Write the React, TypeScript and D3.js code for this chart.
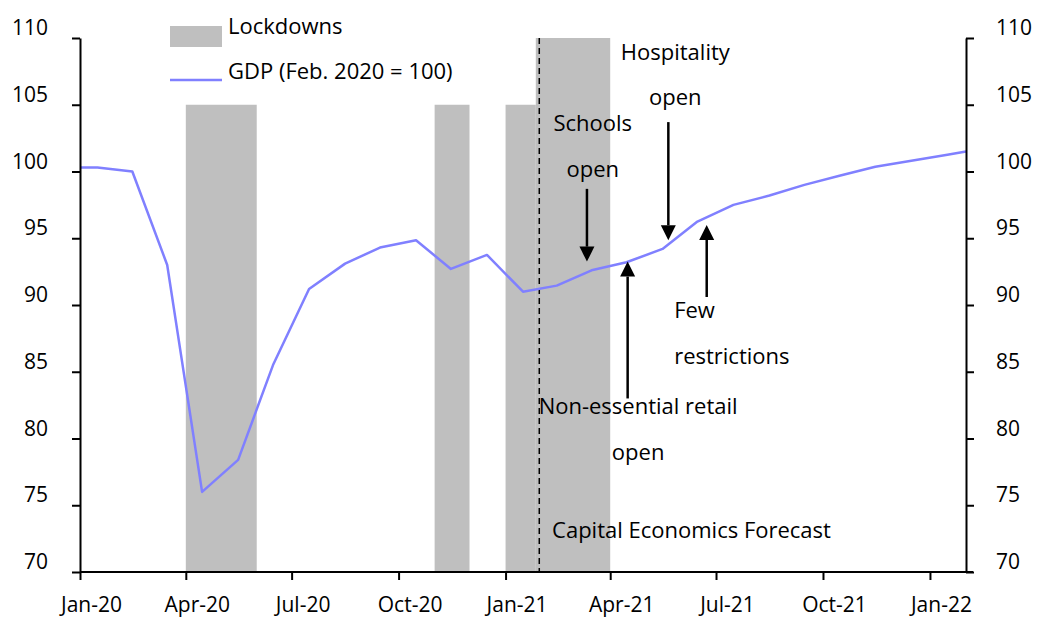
import * as d3 from "d3";
import React, {useEffect, useRef} from "react";

// GDP index, plotted mid-month (first/last entries sit on the axis edges)
const gdpDates = [
  "2020-01-01", "2020-01-16", "2020-02-15", "2020-03-16", "2020-04-15", "2020-05-16",
  "2020-06-15", "2020-07-16", "2020-08-16", "2020-09-15", "2020-10-16", "2020-11-15",
  "2020-12-16", "2021-01-16", "2021-02-14", "2021-03-16", "2021-04-15", "2021-05-16",
  "2021-06-15", "2021-07-16", "2021-08-16", "2021-09-15", "2021-10-16", "2021-11-15",
  "2021-12-16", "2022-01-16", "2022-02-01",
];
const gdpValues = [
  100.3, 100.3, 100.0, 93.0, 76.0, 78.4,
  85.5, 91.2, 93.1, 94.3, 94.85, 92.7,
  93.75, 91.0, 91.45, 92.6, 93.2, 94.2,
  96.25, 97.5, 98.2, 99.0, 99.7, 100.35,
  100.8, 101.25, 101.5,
];

// lockdown shading
const lockStart = ["2020-04-01", "2020-11-01", "2021-01-01", "2021-01-27"];
const lockEnd = ["2020-06-01", "2020-12-01", "2021-01-27", "2021-04-01"];
const lockTop = [105, 105, 105, 110];

const forecastDate = "2021-01-30";

const xTicks = ["2020-01-01", "2020-04-01", "2020-07-01", "2020-10-01", "2021-01-01",
  "2021-04-01", "2021-07-01", "2021-10-01", "2022-01-01"];
const yTicks = [70, 75, 80, 85, 90, 95, 100, 105, 110];

// arrows: date, from value, to value (tip)
const arrowDates = ["2021-03-12", "2021-05-21", "2021-06-23", "2021-04-16"];
const arrowFrom = [98.7, 103.7, 90.6, 83.0];
const arrowTo = [93.25, 94.85, 96.0, 93.25];

// annotation text: date, value of first line, anchor
const noteLines = [["Schools", "open"], ["Hospitality", "open"], ["Few", "restrictions"], ["Non-essential retail", "open"]];
const noteDates = ["2021-03-17", "2021-05-27", "2021-05-26", "2021-04-25"];
const noteValues = [103.6, 108.95, 89.6, 82.4];
const noteAnchor = ["middle", "middle", "start", "middle"];

const W = 1038, H = 618;
const margin = {top: 38, right: 72, bottom: 46, left: 80};
const FONT = "'Open Sans', sans-serif";

const App: React.FC = () => {
  const ref = useRef<SVGSVGElement | null>(null);

  useEffect(() => {
    const svg = d3.select(ref.current);
    svg.selectAll('*').remove();
    const parse = d3.timeParse("%Y-%m-%d");

    const x = d3.scaleTime()
      .domain([parse("2020-01-01")!, parse("2022-02-01")!])
      .range([margin.left, W - margin.right]);
    const y = d3.scaleLinear()
      .domain([70, 110])
      .range([H - margin.bottom, margin.top]);

    // lockdown bars
    svg.append('g')
      .selectAll('rect')
      .data(lockStart)
      .enter()
      .append('rect')
      .attr('x', (d) => x(parse(d)!))
      .attr('width', (d, i) => x(parse(lockEnd[i])!) - x(parse(d)!))
      .attr('y', (d, i) => y(lockTop[i]))
      .attr('height', (d, i) => y(70) - y(lockTop[i]))
      .attr('fill', '#bfbfbf');

    // forecast divider
    svg.append('line')
      .attr('x1', x(parse(forecastDate)!))
      .attr('x2', x(parse(forecastDate)!))
      .attr('y1', y(110))
      .attr('y2', y(70))
      .attr('stroke', 'black')
      .attr('stroke-width', 1.5)
      .attr('stroke-dasharray', '6,4');

    // GDP line
    const line = d3.line<number>()
      .x((d, i) => x(parse(gdpDates[i])!))
      .y((d) => y(d));
    svg.append('path')
      .datum(gdpValues)
      .attr('d', line)
      .attr('fill', 'none')
      .attr('stroke', '#8080ff')
      .attr('stroke-width', 2.5)
      .attr('stroke-linejoin', 'round');

    // axes
    const left = svg.append('g')
      .attr('transform', `translate(${margin.left},0)`)
      .call(d3.axisLeft(y).tickValues(yTicks).tickSize(8).tickSizeOuter(0));
    const right = svg.append('g')
      .attr('transform', `translate(${W - margin.right},0)`)
      .call(d3.axisRight(y).tickValues(yTicks).tickSize(8).tickSizeOuter(0));
    const bottom = svg.append('g')
      .attr('transform', `translate(0,${y(70)})`)
      .call(d3.axisBottom(x).tickValues(xTicks.map((d) => parse(d)!))
        .tickSize(8).tickSizeOuter(0)
        .tickFormat((d) => d3.timeFormat("%b-%y")(d as Date)));

    [left, right, bottom].forEach((g) => {
      g.selectAll('path, line').attr('stroke', 'black').attr('stroke-width', 2);
      g.selectAll('text')
        .attr('fill', 'black')
        .style('font-family', FONT)
        .style('font-size', '21px');
    });
    bottom.select('.domain').attr('d', `M${margin.left},0H${W - margin.right + 7}`);
    left.selectAll('text').attr('x', -32).attr('y', -10);
    right.selectAll('text').attr('x', 30).attr('y', -10);
    bottom.selectAll('text').attr('x', 11).attr('y', 25);

    // arrows
    const arrows = svg.append('g');
    arrowDates.forEach((d, i) => {
      const ax = x(parse(d)!);
      const y0 = y(arrowFrom[i]);
      const y1 = y(arrowTo[i]);
      const dir = y1 > y0 ? 1 : -1;
      const head = 15;
      arrows.append('line')
        .attr('x1', ax).attr('x2', ax)
        .attr('y1', y0).attr('y2', y1 - dir * head)
        .attr('stroke', 'black')
        .attr('stroke-width', 2.5);
      arrows.append('path')
        .attr('d', `M${ax - 7.5},${y1 - dir * head}L${ax + 7.5},${y1 - dir * head}L${ax},${y1}Z`)
        .attr('fill', 'black');
    });

    // annotation text
    noteLines.forEach((lines, i) => {
      const t = svg.append('text')
        .attr('x', x(parse(noteDates[i])!))
        .attr('y', y(noteValues[i]))
        .attr('text-anchor', noteAnchor[i])
        .style('font-family', FONT)
        .style('font-size', '22px')
        .attr('fill', 'black');
      lines.forEach((l, j) => {
        t.append('tspan')
          .attr('x', x(parse(noteDates[i])!))
          .attr('dy', j === 0 ? '0.35em' : 45.5)
          .text(l);
      });
    });

    svg.append('text')
      .attr('x', x(parse("2021-02-10")!))
      .attr('y', y(73.15))
      .attr('dy', '0.35em')
      .style('font-family', FONT)
      .style('font-size', '22px')
      .text('Capital Economics Forecast');

    // legend
    const legend = svg.append('g');
    legend.append('rect')
      .attr('x', 170).attr('y', 26).attr('width', 52).attr('height', 21)
      .attr('fill', '#bfbfbf');
    legend.append('text')
      .attr('x', 228).attr('y', 26).attr('dy', '0.35em')
      .style('font-family', FONT).style('font-size', '22px')
      .text('Lockdowns');
    legend.append('line')
      .attr('x1', 170).attr('x2', 222).attr('y1', 80).attr('y2', 80)
      .attr('stroke', '#8080ff').attr('stroke-width', 2.5);
    legend.append('text')
      .attr('x', 228).attr('y', 71).attr('dy', '0.35em')
      .style('font-family', FONT).style('font-size', '22px')
      .text('GDP (Feb. 2020 = 100)');

    return () => {
      svg.selectAll('*').remove();
    };
  }, []);

  return (
    <div style={{position: 'absolute', left: 0, top: 0, background: 'white'}}>
      <svg ref={ref} width={W} height={H} style={{display: 'block'}}/>
    </div>
  );
};

export default App;
